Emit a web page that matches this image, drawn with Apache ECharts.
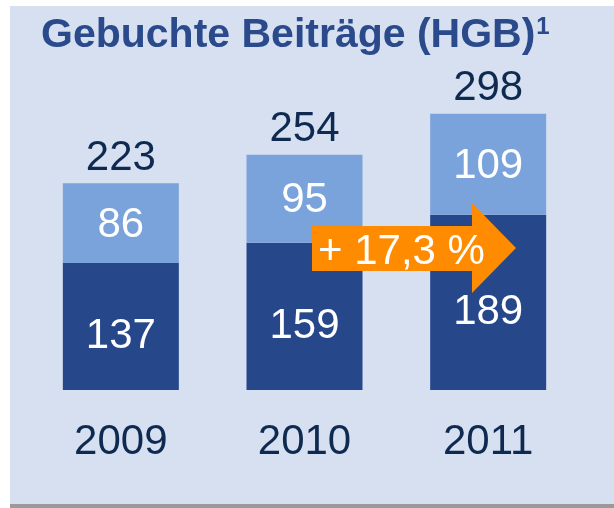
<!DOCTYPE html>
<html>
<head>
<meta charset="utf-8">
<script src="https://cdn.jsdelivr.net/npm/echarts@6/dist/echarts.min.js"></script>
<style>
  html, body { margin: 0; padding: 0; background: #fff; }
  #chart { width: 614px; height: 508px; }
</style>
</head>
<body>
<div id="chart"></div>
<script>
const years = ["2009", "2010", "2011"];
const baseValues = [137, 159, 189];
const topValues = [86, 95, 109];
const totals = [223, 254, 298];
const growthText = "+ 17,3 %";

const FONT = "Liberation Sans, Arial, sans-serif";
const DARK_TEXT = "#0e2a50";
const NUM_SIZE = 42;

const chart = echarts.init(document.getElementById("chart"), null, { renderer: "canvas" });

chart.setOption({
    backgroundColor: "#ffffff",
    animation: false,
    title: {
        left: 36,
        top: 10,
        text: "{a|Gebuchte Beiträge (HGB)}{b|1}",
        textStyle: {
            rich: {
                a: { fontFamily: FONT, fontWeight: "bold", fontSize: 41, color: "#2a4a8c" },
                b: { fontFamily: FONT, fontWeight: "bold", fontSize: 24, color: "#2a4a8c", verticalAlign: "top", padding: [0, 0, 16, 1] }
            }
        }
    },
    grid: { left: 29, right: 34, top: 112, bottom: 118 },
    xAxis: {
        type: "category",
        data: years,
        axisLine: { show: false },
        axisTick: { show: false },
        axisLabel: { fontFamily: FONT, fontSize: NUM_SIZE, color: DARK_TEXT, margin: 31 }
    },
    yAxis: {
        type: "value",
        min: 0,
        max: 300,
        show: false,
        splitLine: { show: false }
    },
    graphic: [
        // panel + shadow
        { type: "rect", z: -10, silent: true, shape: { x: 10, y: 9, width: 604, height: 499 }, style: { fill: "#9a9a9a" } },
        { type: "rect", z: -9, silent: true, shape: { x: 10, y: 6, width: 604, height: 498 }, style: { fill: "#d6e0f1" } },
        // growth arrow
        {
            type: "polygon", z: 100, silent: true,
            shape: { points: [[312, 226], [472, 226], [472, 203], [516, 248], [472, 293], [472, 271], [312, 271]] },
            style: { fill: "#ff8b00" }
        },
        {
            type: "text", z: 101, silent: true, left: 318, top: 231,
            style: { text: growthText, fontFamily: FONT, fontSize: 42, fill: "#ffffff" }
        }
    ],
    series: [
        {
            type: "bar",
            stack: "total",
            data: baseValues,
            barWidth: 116,
            itemStyle: { color: "#26478a" },
            label: {
                show: true, position: "inside", offset: [0, 10],
                fontFamily: FONT, fontSize: NUM_SIZE, color: "#ffffff"
            }
        },
        {
            type: "bar",
            stack: "total",
            data: topValues,
            barWidth: 116,
            itemStyle: { color: "#7ba3db" },
            label: {
                show: true, position: "inside", offset: [0, 2],
                fontFamily: FONT, fontSize: NUM_SIZE, color: "#ffffff"
            }
        },
        {
            // invisible overlay carrying the totals above each bar
            type: "bar",
            data: totals,
            barWidth: 116,
            barGap: "-100%",
            z: 1,
            itemStyle: { color: "transparent" },
            label: {
                show: true, position: "top", distance: 4,
                fontFamily: FONT, fontSize: NUM_SIZE, color: DARK_TEXT
            }
        }
    ]
});
</script>
</body>
</html>
